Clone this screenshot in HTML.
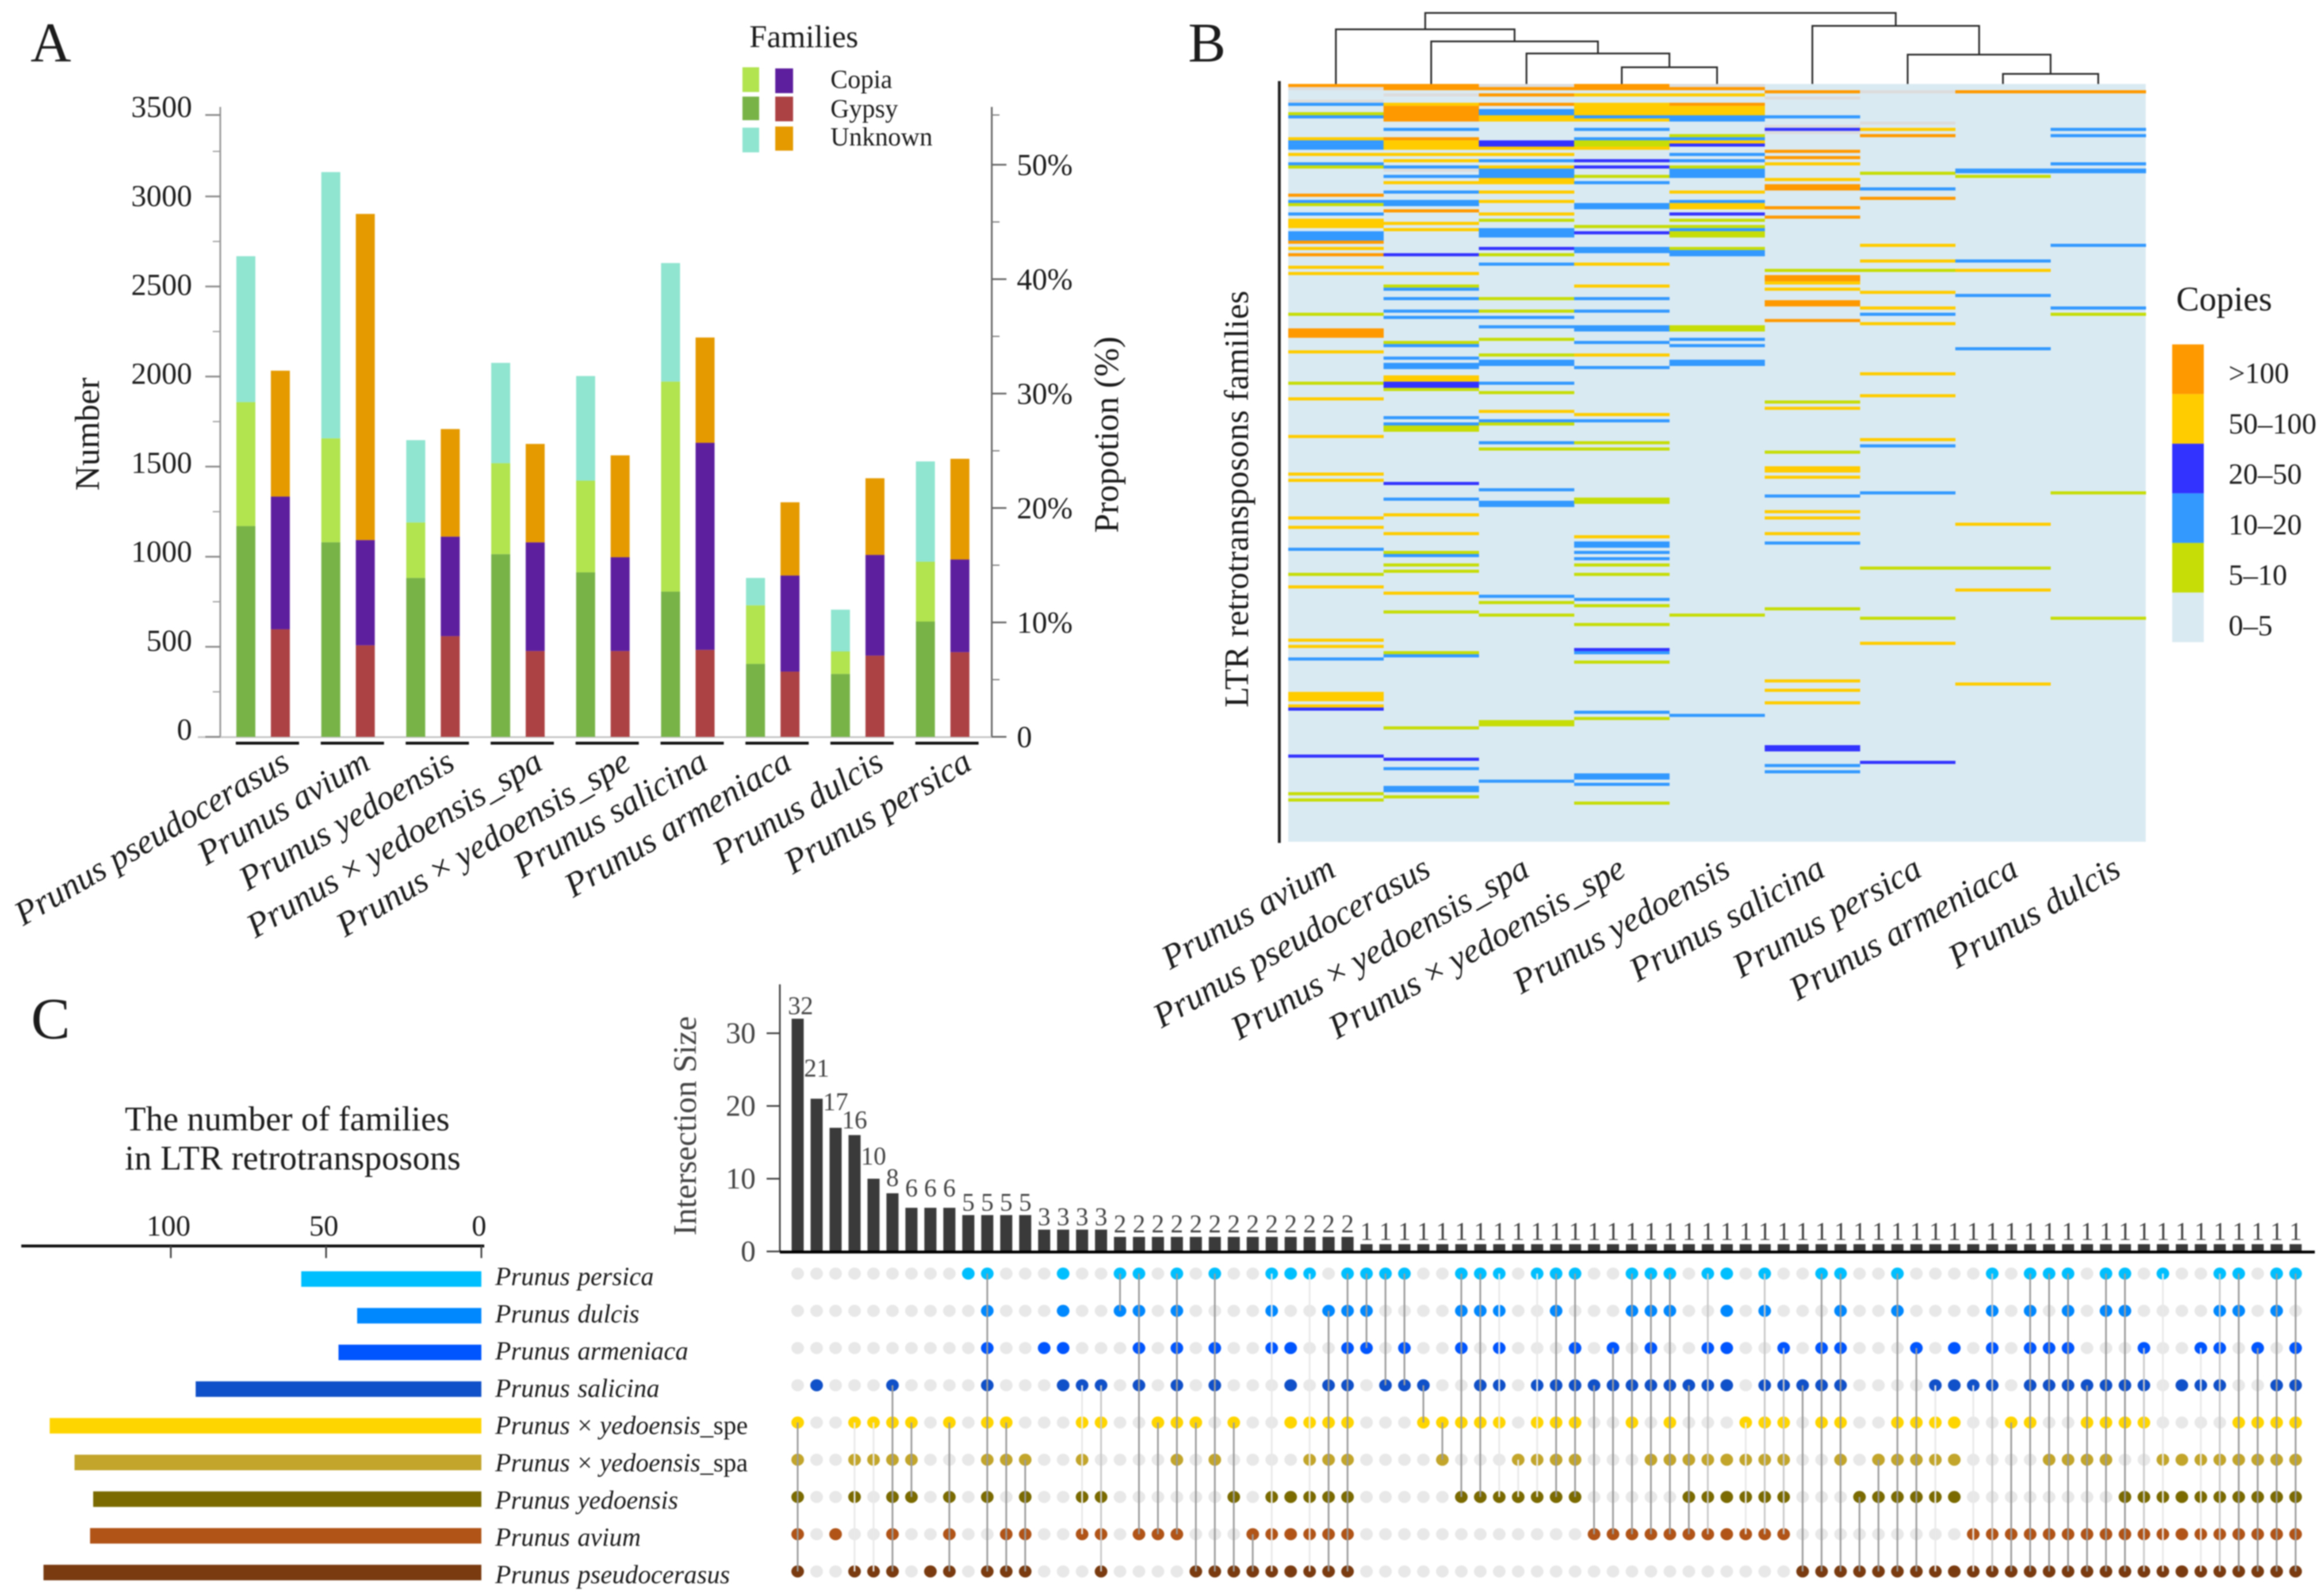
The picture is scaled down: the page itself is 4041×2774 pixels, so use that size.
<!DOCTYPE html>
<html lang="en">
<head>
<meta charset="utf-8">
<title>LTR retrotransposon families in Prunus</title>
<style>
html,body{margin:0;padding:0;background:#fff;width:4041px;height:2774px;overflow:hidden}
svg{display:block;filter:blur(1px)}
text{font-family:"Liberation Serif","Noto Serif CJK SC",serif;fill:#1c1c1c}
.sp{font-style:italic}
.nm{font-style:normal}
</style>
</head>
<body>
<svg id="figure" xmlns="http://www.w3.org/2000/svg" width="4041" height="2774" viewBox="0 0 4041 2774">
  <rect x="0" y="0" width="4041" height="2774" fill="#ffffff"/>

  <!-- PANEL A -->
  <g id="panelA">
    <text x="53" y="107" font-size="98">A</text>
    <text x="1303" y="82" font-size="55">Families</text>
    <rect x="1291" y="117" width="29" height="43" fill="#b1e44f"/>
    <rect x="1348" y="119" width="31" height="43" fill="#5e1f9f"/>
    <rect x="1291" y="168" width="29" height="41" fill="#78b348"/>
    <rect x="1348" y="168" width="31" height="43" fill="#ad4244"/>
    <rect x="1291" y="222" width="29" height="43" fill="#90e5d0"/>
    <rect x="1348" y="220" width="31" height="42" fill="#e59a00"/>
    <text x="1444" y="153" font-size="45" fill="#333">Copia</text>
    <text x="1444" y="204" font-size="45" fill="#333">Gypsy</text>
    <text x="1444" y="253" font-size="45" fill="#333">Unknown</text>
    <text transform="translate(172 755) rotate(-90)" text-anchor="middle" font-size="60">Number</text>
    <text transform="translate(1944 756) rotate(-90)" text-anchor="middle" font-size="60">Propotion (%)</text>
    <g id="aAxes"></g>
    <g id="aBars"></g>
    <g id="aLabels"></g>
  </g>

  <!-- PANEL B -->
  <g id="panelB">
    <text x="2066" y="107" font-size="98">B</text>
    <g id="bDendro"></g>
    <rect x="2222" y="141" width="5" height="1325" fill="#222"/>
    <text transform="translate(2170 868) rotate(-90)" text-anchor="middle" font-size="59" textLength="725" lengthAdjust="spacing">LTR retrotransposons families</text>
    <rect x="2240" y="146" width="1491" height="1318" fill="#daeaf2"/>
    <g id="bCells"></g>
    <g id="bLabels"></g>
    <text x="3784" y="540" font-size="60">Copies</text>
    <g id="bLegend"></g>
  </g>

  <!-- PANEL C LEFT -->
  <g id="panelC">
    <text x="54" y="1806" font-size="102">C</text>
    <text x="217" y="1966" font-size="60">The number of families</text>
    <text x="217" y="2034" font-size="60" textLength="584" lengthAdjust="spacing">in LTR retrotransposons</text>
    <g id="cLeft"></g>
    <text transform="translate(1210 1958) rotate(-90)" text-anchor="middle" font-size="57" style="fill:#444">Intersection Size</text>
    <g id="cBars"></g>
    <g id="cMatrix"></g>
  </g>
</svg>

<script>
/* ---------- Panel A data ---------- */
const barSpecies = ['Prunus pseudocerasus','Prunus avium','Prunus yedoensis','Prunus × yedoensis_spa','Prunus × yedoensis_spe','Prunus salicina','Prunus armeniaca','Prunus dulcis','Prunus persica'];
const numberGypsy = [1170,1080,882,1014,913,806,405,349,640];
const numberCopia = [688,577,308,505,509,1166,325,125,332];
const numberUnknown = [810,1478,457,557,581,658,152,232,557];
const percentGypsy = [9.4,8.0,8.8,7.5,7.5,7.6,5.7,7.1,7.4];
const percentCopia = [11.6,9.2,8.7,9.5,8.2,18.1,8.4,8.8,8.1];
const percentUnknown = [11.0,28.5,9.4,8.6,8.9,9.2,6.4,6.7,8.8];
const numberTicks = [0,500,1000,1500,2000,2500,3000,3500];
const percentTicks = [0,10,20,30,40,50];

/* ---------- Panel B data: [row, class, span] ; class 1 5-10, 2 10-20, 3 20-50, 4 50-100, 5 >100, 6 absent-grey ---------- */
const heatSpecies = ['Prunus avium','Prunus pseudocerasus','Prunus × yedoensis_spa','Prunus × yedoensis_spe','Prunus yedoensis','Prunus salicina','Prunus persica','Prunus armeniaca','Prunus dulcis'];
const heatAvium = [[0,5],[1,6],[5,6],[6,2],[9,1],[10,2],[17,4],[18,2],[19,2],[20,2],[22,4],[25,2],[26,1],[35,5],[37,2],[38,1],[41,2],[43,4,3],[47,2,3],[50,5],[52,4],[54,5],[58,4],[60,4],[73,1],[78,5,3],[85,4],[95,1],[100,4],[112,4],[124,4],[126,4],[138,4],[141,4],[148,2],[156,1],[160,4],[177,4],[179,4],[183,2],[194,4,3],[198,4],[199,3],[214,3],[226,1],[228,1]];
const heatPseudo = [[0,5,2],[3,6],[6,4],[7,5,5],[14,2],[17,5],[18,4,3],[22,4],[24,4],[26,2],[27,6],[29,2],[31,4],[34,2],[37,2,2],[40,5],[44,4],[46,4],[54,3],[60,4],[64,1],[65,2],[68,2],[72,2],[74,2],[82,1],[83,2],[87,2],[89,2,2],[93,4,2],[95,3,2],[97,1],[106,2],[108,2],[109,1,2],[127,3],[132,2],[137,4],[143,4],[149,1],[150,2],[153,1],[155,1],[162,4],[168,1],[181,1],[182,2],[205,1],[215,3],[218,2],[224,2,2],[227,1]];
const heatSpa = [[0,6],[1,5],[3,5],[6,5],[8,2,2],[10,4,2],[18,3,2],[20,4],[22,4],[24,2],[26,4],[27,2,3],[30,4,2],[34,4],[37,4],[41,4],[43,1],[46,2,3],[52,3],[54,1],[57,2],[68,1],[72,1],[74,2],[77,2],[81,1],[86,1],[88,2,2],[95,2],[98,1],[104,4],[107,2],[108,1],[114,2],[116,1],[129,2],[133,2,2],[163,2],[165,1],[169,1],[203,1,2],[222,2]];
const heatSpe = [[0,5,2],[3,4],[6,4,4],[10,2],[11,4],[14,2],[17,2],[18,1,2],[20,4],[24,3],[26,3],[29,1],[31,2],[38,2,2],[45,1],[47,3],[52,2,2],[57,4],[64,4],[68,2],[72,2],[77,2,2],[82,2],[86,4],[90,2],[105,4],[107,2],[114,1],[116,1],[132,1,2],[144,4],[146,2,2],[149,2],[151,2],[153,1],[156,1],[164,2],[166,1],[172,1],[180,3],[181,2],[184,1],[200,2],[202,1],[220,2,2],[223,2],[229,1]];
const heatYedoensis = [[0,6],[1,5],[3,4],[6,5],[7,4,3],[10,2,2],[16,1],[17,2],[18,4],[19,3],[22,2],[24,2],[26,1],[27,2,3],[34,4],[37,2],[38,4,2],[41,3],[43,1],[45,1],[46,2],[47,1,2],[52,1],[53,2,2],[77,1,2],[81,2],[83,2],[88,2,2],[169,1],[201,2]];
const heatSalicina = [[2,5],[4,6],[10,2],[13,6],[14,3],[15,6],[21,5],[23,5],[25,4],[30,4],[32,5,2],[39,5],[42,5],[59,1],[61,5,2],[63,4],[65,4],[69,5,2],[75,5],[101,1],[103,4],[117,1],[122,4,2],[125,4],[131,2],[136,4],[138,4],[143,4],[146,2],[167,1],[190,4],[193,4],[197,4],[211,3,2],[217,2],[219,2]];
const heatPersica = [[2,6],[12,6],[14,4],[16,5],[28,1],[33,2],[36,5],[51,4],[56,4],[59,1],[66,4],[71,4],[73,2],[76,4],[92,4],[99,4],[113,4],[115,2],[130,2],[154,1],[170,1],[178,4],[216,3]];
const heatArmeniaca = [[2,5],[27,2,1.5],[29,1],[56,2],[59,4],[67,2],[84,2],[140,4],[154,1],[161,4],[191,4]];
const heatDulcis = [[2,5],[14,2],[16,2],[25,2],[27,2,1.5],[51,2],[71,2],[73,1],[130,1],[170,1]];
const heatColumns = [heatAvium,heatPseudo,heatSpa,heatSpe,heatYedoensis,heatSalicina,heatPersica,heatArmeniaca,heatDulcis];
const copyLabels = ['0–5','5–10','10–20','20–50','50–100','>100'];
/* dendrogram merges: children are leaf indexes (>=0) or previous merges (-1-k); heights are distances */
const dendroLeft = [3,2,1,0,7,6,5,-4];
const dendroRight = [4,-1,-2,-3,8,-5,-6,-7];
const dendroHeights = [29,53,74,95,17.5,51,101,123.5];

/* ---------- Panel C data ---------- */
const setNames = ['Prunus persica','Prunus dulcis','Prunus armeniaca','Prunus salicina','Prunus × yedoensis_spe','Prunus × yedoensis_spa','Prunus yedoensis','Prunus avium','Prunus pseudocerasus'];
const familyCounts = [58,40,46,92,139,131,125,126,141];
const familyTicks = [0,50,100];
const intersectionTicks = [0,10,20,30];
const intersectionSizes = [32,21,17,16,10,8,6,6,6,5,5,5,5,3,3,3,3,2,2,2,2,2,2,2,2,2,2,2,2,2,1,1,1,1,1,1,1,1,1,1,1,1,1,1,1,1,1,1,1,1,1,1,1,1,1,1,1,1,1,1,1,1,1,1,1,1,1,1,1,1,1,1,1,1,1,1,1,1,1,1];
const intersectionSets = ['45678','3','7','4568','458','345678','456','8','4678','0','01234568','4578','5678','2','0123','34567','34678','01','01237','47','0123457','48','02358','468','78','012678','0234678','045678','1345678','012345678','012','03','023','34','45','01246','01346','012346','56','03456','013456','023456','37','237','01347','012357','013457','3567','023567','0123567','4567','0134567','234567','38','02348','0123458','68','568','014568','24568','34568','234568','378','012378','478','0123478','023578','0123578','34578','0134578','0134678','234678','05678','35678','235678','01235678','0145678','245678','01345678','02345678'];
const fadedLinks = [3,4,15,25,27,37,38,39,50,60,62,72,74];
const midLinks = [16,48,51,52,63,71,75];
const hiddenLinks = [14,26,49,61,73];

/* ---------- Helpers ---------- */
const NS = 'http://www.w3.org/2000/svg';
function mk(parent, tag, attrs, txt) {
  const el = document.createElementNS(NS, tag);
  for (const k in attrs) el.setAttribute(k, attrs[k]);
  if (txt !== undefined) el.textContent = txt;
  parent.appendChild(el);
  return el;
}
function speciesText(parent, attrs, name, uprightSuffix) {
  const t = mk(parent, 'text', attrs);
  t.setAttribute('class', 'sp');
  const m = name.match(/^(.*?)× (.*?)(_sp[ae])?$/);
  if (m) {
    mk(t, 'tspan', {}, m[1]);
    mk(t, 'tspan', {class:'nm'}, '× ');
    mk(t, 'tspan', {}, m[2]);
    mk(t, 'tspan', uprightSuffix ? {class:'nm'} : {}, m[3] || '');
  } else {
    t.textContent = name;
  }
  return t;
}
function slug(s) { return s.toLowerCase().replace(/[^a-z0-9]+/g, '-').replace(/^-|-$/g, ''); }

/* ---------- Panel A ---------- */
const yNumber = v => 1281.5 - v * 0.3133;
const yNumberLabel = v => 1286.5 - v * 0.3094;
const yPercent = v => 1281.5 - v * 19.9;
const groupX = i => 411 + i * 147.7;
const aAxes = document.getElementById('aAxes');
const aBars = document.getElementById('aBars');
const aLabels = document.getElementById('aLabels');

const leftAxisLine = mk(aAxes, 'line', {x1:383,x2:383,y1:186,y2:1282,stroke:'#999','stroke-width':3});


const rightAxisLine = mk(aAxes, 'line', {x1:1724.5,x2:1724.5,y1:186,y2:1282,stroke:'#666','stroke-width':3});


const baseLine = mk(aAxes, 'line', {x1:344,x2:1724,y1:1282,y2:1282,stroke:'#c4c4c4','stroke-width':3});



numberTicks.forEach(v => {
  const y = Math.max(yNumber(v), 200);
  const tick = mk(aAxes, 'line', {x1:357,x2:383,y1:y,y2:y,stroke:'#888','stroke-width':3});
  
  
  const lab = mk(aAxes, 'text', {x:334,y:yNumberLabel(v),'text-anchor':'end','font-size':53}, String(v));
  
  
  if (v < 3500) {
    const my = yNumber(v + 250);
    const minor = mk(aAxes, 'line', {x1:370,x2:383,y1:my,y2:my,stroke:'#999','stroke-width':2});
    
    
  }
});
percentTicks.forEach(v => {
  const y = yPercent(v);
  const tick = mk(aAxes, 'line', {x1:1724,x2:1750,y1:y,y2:y,stroke:'#666','stroke-width':3});
  
  
  const lab = mk(aAxes, 'text', {x:1768,y:y + 18,'font-size':53}, v === 0 ? '0' : v + '%');
  
  
  const my = Math.max(yPercent(v + 5), 200);
  const minor = mk(aAxes, 'line', {x1:1724,x2:1738,y1:my,y2:my,stroke:'#777','stroke-width':2});
  
  
});

barSpecies.forEach((sp, i) => {
  const x = groupX(i);
  const key = slug(sp);
  const g1 = numberGypsy[i], c1 = numberCopia[i], u1 = numberUnknown[i];
  const r1 = mk(aBars, 'rect', {x:x,y:yNumber(g1),width:33,height:yNumber(0) - yNumber(g1),fill:'#78b348'});
  
  
  const r2 = mk(aBars, 'rect', {x:x,y:yNumber(g1 + c1),width:33,height:yNumber(g1) - yNumber(g1 + c1),fill:'#b1e44f'});
  
  
  const r3 = mk(aBars, 'rect', {x:x,y:yNumber(g1 + c1 + u1),width:33,height:yNumber(g1 + c1) - yNumber(g1 + c1 + u1),fill:'#90e5d0'});
  
  
  const g2 = percentGypsy[i], c2 = percentCopia[i], u2 = percentUnknown[i];
  const r4 = mk(aBars, 'rect', {x:x + 60,y:yPercent(g2),width:33,height:yPercent(0) - yPercent(g2),fill:'#ad4244'});
  
  
  const r5 = mk(aBars, 'rect', {x:x + 60,y:yPercent(g2 + c2),width:33,height:yPercent(g2) - yPercent(g2 + c2),fill:'#5e1f9f'});
  
  
  const r6 = mk(aBars, 'rect', {x:x + 60,y:yPercent(g2 + c2 + u2),width:33,height:yPercent(g2 + c2) - yPercent(g2 + c2 + u2),fill:'#e59a00'});
  
  
  const under = mk(aBars, 'rect', {x:x - 1,y:1290,width:110,height:5,fill:'#111'});
  
  
});

const barLabelEnds = [507,647,794,947,1100,1234,1380,1540,1693];
barSpecies.forEach((sp, i) => {
  const ex = barLabelEnds[i], ey = 1336;
  const t = speciesText(aLabels, {x:ex,y:ey,'text-anchor':'end','font-size':60,transform:'rotate(-30.5 ' + ex + ' ' + ey + ')'}, sp, false);
  
  
});

/* ---------- Panel B ---------- */
const heatX0 = 2240, heatW = 165.7, heatY0 = 146, heatRowH = 5.45;
const heatFill = {1:'#c6dd08',2:'#3399ff',3:'#3333ff',4:'#ffcc00',5:'#ff9900',6:'#dcdcdc'};
const bCells = document.getElementById('bCells');
heatColumns.forEach((col, c) => {
  const key = slug(heatSpecies[c]);
  col.forEach(cell => {
    const span = cell[2] || 1;
    const r = mk(bCells, 'rect', {x:heatX0 + c * heatW,y:heatY0 + cell[0] * heatRowH,width:heatW + 0.3,height:span * heatRowH,fill:heatFill[cell[1]]});
    
    
  });
});

const bLabels = document.getElementById('bLabels');
const heatLabelEnds = [2326,2491,2663,2830,3012,3177,3345,3513,3691];
heatSpecies.forEach((sp, i) => {
  const ex = heatLabelEnds[i], ey = 1522;
  const t = speciesText(bLabels, {x:ex,y:ey,'text-anchor':'end','font-size':60,transform:'rotate(-29.5 ' + ex + ' ' + ey + ')'}, sp, false);
  
  
});

const bDendro = document.getElementById('bDendro');
const nodeX = {}, nodeH = {};
function childPos(ch) {
  if (ch >= 0) return {x: heatX0 + (ch + 0.5) * heatW, h: 0};
  return {x: nodeX[-ch - 1], h: nodeH[-ch - 1]};
}
dendroHeights.forEach((h, m) => {
  const a = childPos(dendroLeft[m]), b = childPos(dendroRight[m]);
  const yTop = heatY0 - h;
  const path = 'M' + a.x + ' ' + (heatY0 - a.h) + 'V' + yTop + 'H' + b.x + 'V' + (heatY0 - b.h);
  const p = mk(bDendro, 'path', {d:path,fill:'none',stroke:'#2a2a2a','stroke-width':3});
  
  
  nodeX[m] = (a.x + b.x) / 2;
  nodeH[m] = h;
});

const bLegend = document.getElementById('bLegend');
const legendClasses = [0,1,2,3,4,5];
const legendBoxFill = ['#daeaf2','#c6dd08','#3399ff','#3333ff','#ffcc00','#ff9900'];
legendClasses.forEach(c => {
  const yTop = 599 + (5 - c) * 86.3;
  const r = mk(bLegend, 'rect', {x:3777,y:yTop,width:55,height:86.3,fill:legendBoxFill[c]});
  
  
  const t = mk(bLegend, 'text', {x:3875,y:666 + (5 - c) * 87.8,'font-size':51}, copyLabels[c]);
  
  
});

/* ---------- Panel C left bars ---------- */
const setColors = ['#00bfff','#0088ff','#0055ff','#1050c8','#ffd500','#c2a52a','#7a6a00','#b05418','#7a3b10'];
const xFamily = v => 837 - v * 5.4;
const cLeft = document.getElementById('cLeft');
const famAxis = mk(cLeft, 'line', {x1:37,x2:842,y1:2167,y2:2167,stroke:'#111','stroke-width':5});


familyTicks.forEach(v => {
  const x = xFamily(v);
  const tick = mk(cLeft, 'line', {x1:x,x2:x,y1:2167,y2:2188,stroke:'#444','stroke-width':3});
  
  
  const lab = mk(cLeft, 'text', {x:x - 4,y:2149,'text-anchor':'middle','font-size':51}, String(v));
  
  
});
setNames.forEach((sp, i) => {
  const y = 2211 + i * 63.8;
  const r = mk(cLeft, 'rect', {x:xFamily(familyCounts[i]),y:y,width:xFamily(0) - xFamily(familyCounts[i]),height:27,fill:setColors[i]});
  
  
  const t = speciesText(cLeft, {x:861,y:2235 + i * 64.8,'font-size':45,'word-spacing':2}, sp, true);
  
  
});

/* ---------- Panel C upset ---------- */
const yInter = v => 2176.5 - v * 12.65;
const xInter = i => 1387 + i * 32.97;
const rowY = r => 2215 + r * 64.75;
const labelGaps = {1:39,2:31,3:12,4:25,5:13,6:20,7:20,8:20};
const cBars = document.getElementById('cBars');
const cMatrix = document.getElementById('cMatrix');
const upAxis = mk(cBars, 'line', {x1:1356,x2:1356,y1:1712,y2:2178,stroke:'#444','stroke-width':3});


intersectionTicks.forEach(v => {
  const y = yInter(v);
  const tick = mk(cBars, 'line', {x1:1333,x2:1356,y1:y,y2:y,stroke:'#444','stroke-width':3});
  
  
  const lab = mk(cBars, 'text', {x:1314,y:y + 17,'text-anchor':'end','font-size':52,style:'fill:#444'}, String(v));
  
  
});
intersectionSizes.forEach((v, i) => {
  const x = xInter(i);
  const bar = mk(cBars, 'rect', {x:x - 10.5,y:yInter(v),width:21,height:yInter(0) - yInter(v),fill:'#3a3a3a'});
  
  
  const gap = labelGaps[i] !== undefined ? labelGaps[i] : 8;
  const lab = mk(cBars, 'text', {x:x + (i === 0 ? 5 : 0),y:yInter(v) - gap,'text-anchor':'middle','font-size':44,style:'fill:#444'}, String(v));
  
  
});
const upBase = mk(cBars, 'rect', {x:1356,y:2175,width:2669,height:5,fill:'#000'});



intersectionSets.forEach((members, i) => {
  const x = xInter(i);
  for (let r = 0; r < 9; r++) {
    const on = members.indexOf(String(r)) >= 0;
    const dot = mk(cMatrix, 'ellipse', {cx:x,cy:rowY(r),rx:11,ry:10.5,fill:on ? setColors[r] : '#e8e8e8'});
    
    
  }
});
intersectionSets.forEach((members, i) => {
  if (members.length < 2 || hiddenLinks.indexOf(i) >= 0) return;
  const x = xInter(i);
  const first = Number(members[0]);
  const last = Number(members[members.length - 1]);
  const colour = fadedLinks.indexOf(i) >= 0 ? '#e9e9e9' : (midLinks.indexOf(i) >= 0 ? '#c8c8c8' : '#9c9c9c');
  const link = mk(cMatrix, 'line', {x1:x,x2:x,y1:rowY(first),y2:rowY(last),stroke:colour,'stroke-width':3});
  
  
});
</script>
</body>
</html>
